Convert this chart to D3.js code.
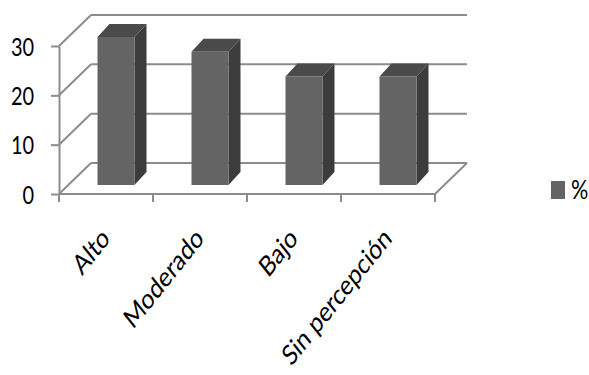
<!DOCTYPE html>
<html>
<head>
<meta charset="utf-8">
<script src="https://cdn.jsdelivr.net/npm/d3@7"></script>
<style>
  html, body { margin: 0; padding: 0; background: #fff; }
  svg { display: block; }
  text { font-family: Lato, "Open Sans", sans-serif; fill: #000; }
</style>
</head>
<body>
<svg id="chart" width="589" height="375"></svg>
<script>
// Percentage of respondents per perceived level
const categories = ["Alto", "Moderado", "Bajo", "Sin percepción"];
const values = [30, 27, 22, 22];
const yTicks = [0, 10, 20, 30];
const seriesName = "%";

const svg = d3.select("#chart");

// Front plane scales
const x = d3.scaleBand().domain(categories).range([59, 435]).padding(0);
const y = d3.scaleLinear().domain([0, 30]).range([194, 46]);

// Oblique depth of the floor / walls, and of the bars within it
const depth = { dx: 32, dy: -31 };
const barOffset = { dx: 10, dy: -9 };
const barDepth = { dx: 12, dy: -13 };
const barWidth = 37;

const gridColor = "#8c8c8c";
const squash = "scale(0.8,1)";

const grid = svg.append("g").attr("fill", "none").attr("stroke", gridColor).attr("stroke-width", 2);

// Back wall gridlines
grid.selectAll("line.back").data(yTicks).join("line")
  .attr("x1", x.range()[0] + depth.dx).attr("x2", x.range()[1] + depth.dx)
  .attr("y1", d => y(d) + depth.dy).attr("y2", d => y(d) + depth.dy);

// Side wall gridlines
grid.selectAll("line.side").data(yTicks).join("line")
  .attr("x1", x.range()[0]).attr("x2", x.range()[0] + depth.dx)
  .attr("y1", d => y(d)).attr("y2", d => y(d) + depth.dy);

// Floor front edge and right edge
grid.append("line")
  .attr("x1", x.range()[0]).attr("x2", x.range()[1])
  .attr("y1", y(0)).attr("y2", y(0));
grid.append("line")
  .attr("x1", x.range()[1]).attr("x2", x.range()[1] + depth.dx)
  .attr("y1", y(0)).attr("y2", y(0) + depth.dy);

// Category tick marks at band boundaries
const edges = categories.map(c => x(c)).concat([x.range()[1]]);
grid.selectAll("line.xtick").data(edges).join("line")
  .attr("x1", d => d).attr("x2", d => d)
  .attr("y1", y(0)).attr("y2", y(0) + 8);

// Value axis
const yAxis = svg.append("g")
  .attr("transform", `translate(${x.range()[0]},0)`)
  .call(d3.axisLeft(y).tickValues(yTicks).tickSize(8).tickSizeOuter(0).tickPadding(23));
yAxis.selectAll("path, line").attr("stroke", gridColor).attr("stroke-width", 2);
yAxis.selectAll("text")
  .attr("font-size", 25)
  .attr("font-family", "Lato, 'Open Sans', sans-serif")
  .attr("fill", "#000")
  .attr("transform", squash)
  .attr("dy", "0.36em");

// Bars: front, side and top faces
const bars = svg.append("g").selectAll("g").data(values).join("g");
const barLeft = (d, i) => x(categories[i]) + x.bandwidth() / 2 - barWidth / 2 + barOffset.dx;
const barBase = y(0) + barOffset.dy;
const barTop = d => y(d) + barOffset.dy;

bars.append("path").attr("fill", "#3c3c3c")
  .attr("d", (d, i) => {
    const x1 = barLeft(d, i) + barWidth, t = barTop(d);
    return `M${x1},${t} L${x1 + barDepth.dx},${t + barDepth.dy} L${x1 + barDepth.dx},${barBase + barDepth.dy} L${x1},${barBase} Z`;
  });
bars.append("path").attr("fill", "#4a4a4a")
  .attr("d", (d, i) => {
    const x0 = barLeft(d, i), x1 = x0 + barWidth, t = barTop(d);
    return `M${x0},${t} L${x0 + barDepth.dx},${t + barDepth.dy} L${x1 + barDepth.dx},${t + barDepth.dy} L${x1},${t} Z`;
  });
bars.append("rect").attr("fill", "#646464")
  .attr("x", (d, i) => barLeft(d, i)).attr("width", barWidth)
  .attr("y", d => barTop(d)).attr("height", d => barBase - barTop(d));

// Category labels, rotated
svg.append("g").selectAll("text").data(categories).join("text")
  .attr("text-anchor", "end")
  .attr("font-size", 28)
  .attr("transform", c => `translate(${x(c) + x.bandwidth() / 2 + 5},240) ${squash} rotate(-45)`)
  .text(c => c);

// Legend
const legend = svg.append("g").attr("transform", "translate(551,181)");
legend.append("rect").attr("width", 14).attr("height", 18).attr("fill", "#646464");
legend.append("text").attr("x", 20).attr("y", 18).attr("font-size", 27)
  .attr("transform", "translate(4,0) scale(0.8,1)")
  .text(seriesName);
</script>
</body>
</html>
